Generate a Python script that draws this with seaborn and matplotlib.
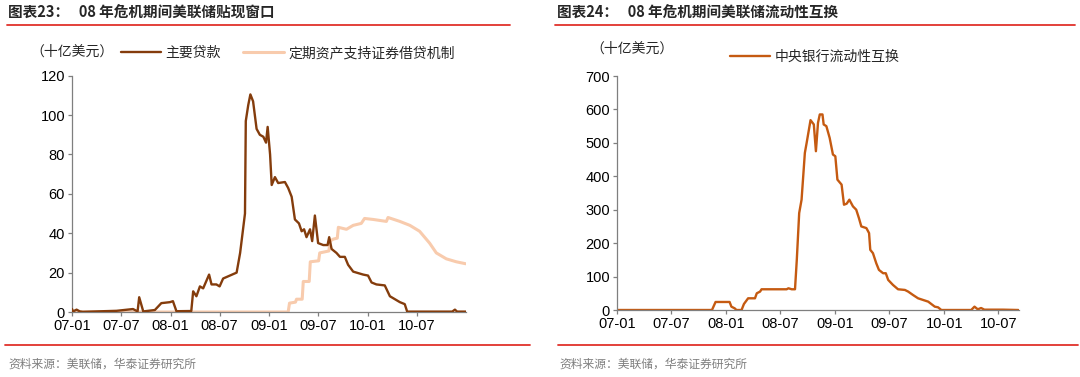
import pandas as pd
import matplotlib.pyplot as plt
import matplotlib.dates as mdates
from matplotlib.lines import Line2D
import seaborn as sns

# primary credit (十亿美元)
pc_dates = ['2007-01-01', '2007-01-05', '2007-01-18', '2007-01-30', '2007-02-10', '2007-06-15',
            '2007-08-15', '2007-09-01', '2007-09-07', '2007-09-22', '2007-11-04', '2007-11-28',
            '2007-12-30', '2008-01-10', '2008-01-23', '2008-03-18', '2008-03-25', '2008-04-06',
            '2008-04-19', '2008-05-01', '2008-05-23', '2008-06-01', '2008-06-19', '2008-07-01',
            '2008-07-14', '2008-08-08', '2008-09-02', '2008-09-15', '2008-09-24', '2008-10-03',
            '2008-10-06', '2008-10-15', '2008-10-23', '2008-11-02', '2008-11-15', '2008-11-27',
            '2008-12-10', '2008-12-20', '2008-12-26', '2009-01-04', '2009-01-10', '2009-01-22',
            '2009-02-03', '2009-02-28', '2009-03-12', '2009-03-25', '2009-04-06', '2009-04-21',
            '2009-05-01', '2009-05-10', '2009-05-19', '2009-06-01', '2009-06-09', '2009-06-19',
            '2009-07-01', '2009-07-20', '2009-08-05', '2009-08-11', '2009-08-20', '2009-09-07',
            '2009-09-20', '2009-10-08', '2009-10-20', '2009-11-08', '2009-12-15', '2010-01-02',
            '2010-01-15', '2010-02-02', '2010-03-05', '2010-03-24', '2010-04-30', '2010-05-18',
            '2010-05-27', '2010-11-10', '2010-11-20', '2010-11-28', '2010-12-30']
pc_values = [1.5, 0.3, 1.2, 0.3, 0.1, 0.6,
             1.5, 0.3, 7.5, 0.3, 1.0, 4.5,
             5.0, 5.5, 0.4, 0.5, 10.5, 8.0,
             13.0, 12.0, 19.0, 14.0, 14.0, 13.0,
             17.0, 18.5, 20.0, 30.0, 40.0, 50.0,
             97.0, 105.0, 110.5, 107.0, 93.0, 90.0,
             89.0, 86.0, 94.0, 80.0, 64.5, 68.5,
             65.5, 66.0, 63.0, 58.5, 47.0, 45.0,
             41.0, 42.0, 38.0, 42.0, 36.0, 49.0,
             35.0, 34.0, 34.0, 38.0, 32.0, 30.0,
             28.0, 28.0, 24.0, 20.5, 19.0, 18.5,
             15.0, 14.0, 13.5, 8.0, 5.0, 4.0,
             0.2, 0.2, 1.2, 0.2, 0.2]

# TALF (十亿美元)
talf_dates = ['2007-01-01', '2009-03-12', '2009-03-17', '2009-04-08', '2009-04-12', '2009-05-03',
              '2009-05-07', '2009-05-29', '2009-06-02', '2009-07-03', '2009-07-07', '2009-08-10',
              '2009-08-14', '2009-08-26', '2009-09-10', '2009-09-14', '2009-10-14', '2009-11-08',
              '2009-12-08', '2009-12-20', '2010-01-21', '2010-03-11', '2010-03-17', '2010-04-30',
              '2010-06-06', '2010-07-12', '2010-08-18', '2010-09-12', '2010-10-19', '2010-11-25',
              '2010-12-30']
talf_values = [0.0, 0.0, 4.5, 5.0, 6.5, 6.5,
               15.5, 15.5, 25.5, 26.0, 30.0, 31.0,
               36.0, 37.0, 37.5, 43.0, 42.0, 44.0,
               45.0, 47.5, 47.0, 46.0, 48.0, 46.0,
               44.0, 41.0, 35.0, 30.0, 27.0, 25.5,
               24.5]

# central bank liquidity swaps (十亿美元)
swap_dates = ['2007-01-01', '2007-11-15', '2007-11-27', '2008-01-13', '2008-01-19', '2008-01-30',
              '2008-02-05', '2008-02-22', '2008-03-01', '2008-03-15', '2008-04-07', '2008-04-13',
              '2008-04-24', '2008-04-29', '2008-07-22', '2008-07-28', '2008-08-08', '2008-08-19',
              '2008-08-25', '2008-09-02', '2008-09-10', '2008-09-21', '2008-09-27', '2008-10-10',
              '2008-10-21', '2008-10-28', '2008-11-04', '2008-11-10', '2008-11-19', '2008-11-23',
              '2008-12-02', '2008-12-13', '2008-12-24', '2009-01-01', '2009-01-08', '2009-01-22',
              '2009-01-30', '2009-02-08', '2009-02-17', '2009-03-01', '2009-03-12', '2009-03-21',
              '2009-03-29', '2009-04-15', '2009-04-24', '2009-04-28', '2009-05-07', '2009-05-18',
              '2009-05-27', '2009-06-10', '2009-06-19', '2009-06-27', '2009-07-13', '2009-07-30',
              '2009-08-22', '2009-09-02', '2009-09-18', '2009-10-05', '2009-10-22', '2009-11-08',
              '2009-11-30', '2009-12-11', '2009-12-22', '2010-04-01', '2010-04-12', '2010-04-23',
              '2010-05-04', '2010-05-15', '2010-07-16', '2010-09-06']
swap_values = [0, 0, 24, 24, 10, 5,
               0, 0, 18, 35, 35, 50,
               55, 62, 62, 65, 62, 62,
               150, 290, 330, 470, 500, 568,
               555, 475, 560, 585, 585, 555,
               550, 515, 465, 460, 390, 375,
               315, 318, 330, 310, 300, 275,
               250, 245, 230, 180, 170, 140,
               120, 110, 110, 90, 75, 62,
               60, 55, 45, 35, 30, 25,
               10, 8, 0, 0, 10, 2,
               6, 1, 1, 0]

df_pc = pd.DataFrame({'date': pd.to_datetime(pc_dates), 'value': pc_values})
df_talf = pd.DataFrame({'date': pd.to_datetime(talf_dates), 'value': talf_values})
df_swap = pd.DataFrame({'date': pd.to_datetime(swap_dates), 'value': swap_values})

sns.set_style('ticks')
plt.rcParams['font.family'] = ['Liberation Sans', 'Noto Sans CJK SC', 'DejaVu Sans']
cjk = ['Noto Sans CJK SC', 'DejaVu Sans']

W, H = 1080, 377
fig = plt.figure(figsize=(W / 100, H / 100), dpi=100)

def px_axes(x0, y_bottom, x1, y_top):
    return fig.add_axes([x0 / W, (H - y_bottom) / H, (x1 - x0) / W, (y_bottom - y_top) / H])

def style_axes(ax, ymax, ystep, xend):
    ax.set_xlim(pd.Timestamp('2007-01-01'), pd.Timestamp(xend))
    ax.set_ylim(0, ymax)
    ax.set_yticks(range(0, ymax + 1, ystep))
    ax.xaxis.set_major_locator(mdates.MonthLocator(bymonth=[1, 7]))
    ax.xaxis.set_major_formatter(mdates.DateFormatter('%y-%m'))
    sns.despine(ax=ax)
    for s in ['left', 'bottom']:
        ax.spines[s].set_color('#7f7f7f')
        ax.spines[s].set_linewidth(0.9)
    ax.tick_params(axis='both', labelsize=10.5, length=3, width=0.9, color='#7f7f7f',
                   labelcolor='black', pad=2)
    ax.set_xlabel('')
    ax.set_ylabel('')

# left chart
ax1 = px_axes(72, 312, 466, 75.7)
sns.lineplot(data=df_pc, x='date', y='value', ax=ax1, color='#843C0C', linewidth=1.7,
             label='主要贷款', zorder=3)
sns.lineplot(data=df_talf, x='date', y='value', ax=ax1, color='#F8CBAD', linewidth=2.2,
             label='定期资产支持证券借贷机制', zorder=2)
style_axes(ax1, 120, 20, '2010-12-31')
ax1.legend(loc='center left', bbox_to_anchor=(108 / W, (H - 53) / H), bbox_transform=fig.transFigure,
           ncol=2, frameon=False, handlelength=2.9, handletextpad=0.35, columnspacing=1.6,
           prop={'family': cjk, 'size': 10})

# right chart
ax2 = px_axes(617, 310, 1019, 76)
sns.lineplot(data=df_swap, x='date', y='value', ax=ax2, color='#C55A11', linewidth=1.7,
             label='中央银行流动性互换')
style_axes(ax2, 700, 100, '2010-09-08')
ax2.legend(loc='center left', bbox_to_anchor=(717 / W, (H - 57) / H), bbox_transform=fig.transFigure,
           frameon=False, handlelength=2.9, handletextpad=0.35,
           prop={'family': cjk, 'size': 10})

# titles, units, sources, rules
red = '#E0312B'
for x0, x1, y in [(7, 510, 25), (555, 1075, 25), (5, 530, 345), (558, 1078, 345)]:
    fig.add_artist(Line2D([x0 / W, x1 / W], [(H - y) / H, (H - y) / H], color=red, linewidth=1.3))

fig.text(8 / W, (H - 13) / H, '图表23：   08 年危机期间美联储贴现窗口', family=cjk, fontsize=10.5,
         fontweight='bold', va='center', ha='left')
fig.text(557 / W, (H - 13) / H, '图表24：   08 年危机期间美联储流动性互换', family=cjk, fontsize=10.5,
         fontweight='bold', va='center', ha='left')
fig.text(30 / W, (H - 52) / H, '（十亿美元）', family=cjk, fontsize=10, va='center', ha='left')
fig.text(590 / W, (H - 49) / H, '（十亿美元）', family=cjk, fontsize=10, va='center', ha='left')
fig.text(8 / W, (H - 364) / H, '资料来源：美联储，华泰证券研究所', family=cjk, fontsize=8.5,
         color='#7f7f7f', va='center', ha='left')
fig.text(559 / W, (H - 364) / H, '资料来源：美联储，华泰证券研究所', family=cjk, fontsize=8.5,
         color='#7f7f7f', va='center', ha='left')

fig.savefig('out.png', dpi=100)
